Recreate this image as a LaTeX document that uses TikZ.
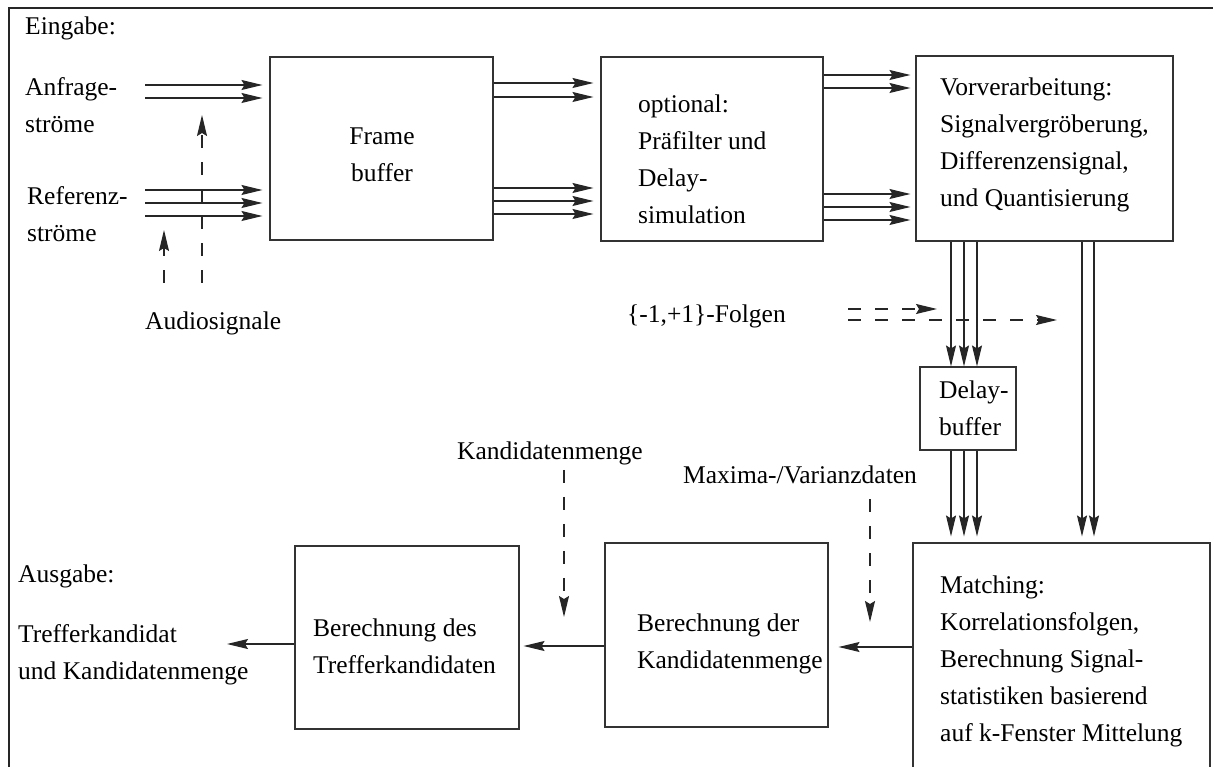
\documentclass[tikz,border=0pt]{standalone}
\usepackage{fontspec}
\setmainfont{Liberation Serif}
\usetikzlibrary{arrows.meta}
\begin{document}
\begin{tikzpicture}[x=1pt,y=-1pt,
  lbl/.style={font=\fontsize{25.5}{37}\selectfont, inner sep=0pt, align=left, anchor=west},
  blk/.style={draw=black!80, line width=1.1pt, inner sep=0pt},
  flow/.style={draw=black!85, line width=1.2pt, -{Stealth[length=21pt,width=10pt,inset=3pt]}},
  hint/.style={flow, dash pattern=on 13pt off 14pt}]
\clip (0,0) rectangle (1213,767);
\fill[white] (0,0) rectangle (1213,767);
% outer frame
\draw[black!85, line width=1.2pt] (9,767) -- (9,8) -- (1213,8);

% processing blocks
\node[blk, minimum width=223pt, minimum height=183pt] (fb) at (381.5,148.5) {};
\node[blk, minimum width=222pt, minimum height=184pt] (op) at (712,149) {};
\node[blk, minimum width=257pt, minimum height=185pt] (vv) at (1044.5,148.5) {};
\node[blk, minimum width=96pt, minimum height=83pt] (db) at (968,408.5) {};
\node[blk, minimum width=297pt, minimum height=260pt] (ma) at (1061.5,673) {};
\node[blk, minimum width=223pt, minimum height=184pt] (km) at (716.5,635) {};
\node[blk, minimum width=224pt, minimum height=183pt] (tk) at (407,637.5) {};

% block texts
\node[lbl, align=center, anchor=center] (fbt) at (382,155) {Frame\\buffer};
\node[lbl] (opt) at (638,159) {optional:\\Präfilter und\\Delay-\\simulation};
\node[lbl] (vvt) at (940,145) {Vorverarbeitung:\\Signalvergröberung,\\Differenzensignal,\\und Quantisierung};
\node[lbl] (dbt) at (939,408) {Delay-\\buffer};
\node[lbl] (mat) at (940,661) {Matching:\\Korrelationsfolgen,\\Berechnung Signal-\\statistiken basierend\\auf k-Fenster Mittelung};
\node[lbl] (kmt) at (637,644) {Berechnung der\\Kandidatenmenge};
\node[lbl] (tkt) at (313,646) {Berechnung des\\Trefferkandidaten};

% free labels
\node[lbl] (eing) at (25,28) {Eingabe:};
\node[lbl] (anf) at (25,105) {Anfrage-\\ströme};
\node[lbl] (ref) at (27,214) {Referenz-\\ströme};
\node[lbl] (aud) at (145,323) {Audiosignale};
\node[lbl] (fol) at (627,316) {\{-1,+1\}-Folgen};
\node[lbl] (kml) at (457,453) {Kandidatenmenge};
\node[lbl] (mvl) at (683,475) {Maxima-/Varianzdaten};
\node[lbl] (ausg) at (18,576) {Ausgabe:};
\node[lbl] (outl) at (18,655) {Trefferkandidat\\und Kandidatenmenge};

% loose ends
\coordinate (src) at (145,0);
\coordinate (audA) at (202,283);
\coordinate (audAe) at (202,115);
\coordinate (audR) at (164,283);
\coordinate (audRe) at (164,230);
\coordinate (folS) at (848,0);
\coordinate (folE1) at (937,309);
\coordinate (folE2) at (1057,320);
\coordinate (kmE) at (564,617);
\coordinate (mvE) at (870,622);
\coordinate (outE) at (227,644);

% input streams
\foreach \y in {85,98,190,203,216}
  \draw[flow, shorten >=7pt] (src |- 0,\y) -- (fb.west |- 0,\y);
% frame buffer -> optional
\foreach \y in {83,97,188,201,214}
  \draw[flow, shorten >=7pt] (fb.east |- 0,\y) -- (op.west |- 0,\y);
% optional -> preprocessing
\foreach \y in {75,88,194,207,220}
  \draw[flow, shorten >=5pt] (op.east |- 0,\y) -- (vv.west |- 0,\y);
% preprocessing -> delay buffer -> matching
\foreach \x in {951,964,977} {
  \draw[flow] (vv.south -| \x,0) -- (db.north -| \x,0);
  \draw[flow, shorten >=6pt] (db.south -| \x,0) -- (ma.north -| \x,0);
}
\foreach \x in {1082,1094}
  \draw[flow, shorten >=6pt] (vv.south -| \x,0) -- (ma.north -| \x,0);

% audio signals
\draw[hint] (audA) -- (audAe);
\draw[hint] (audR) -- (audRe);
% {-1,+1} sequences
\draw[hint] (folS |- folE1) -- (folE1);
\draw[hint] (folS |- folE2) -- (folE2);
% candidate set and maxima/variance data
\draw[hint, shorten <=5pt] (kml.south -| kmE) -- (kmE);
\draw[hint, shorten <=15pt] (mvl.south -| mvE) -- (mvE);

% output chain
\draw[flow, shorten >=10pt] (ma.west |- 0,647) -- (km.east |- 0,647);
\draw[flow, shorten >=4pt] (km.west |- 0,646) -- (tk.east |- 0,646);
\draw[flow] (tk.west |- outE) -- (outE);
\end{tikzpicture}
\end{document}
